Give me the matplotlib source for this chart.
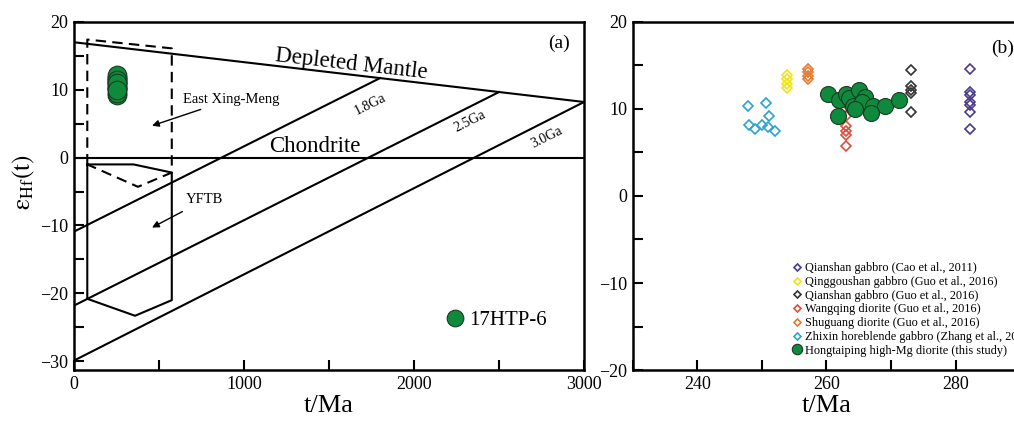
import matplotlib
matplotlib.use('Agg')
import matplotlib.pyplot as plt
import numpy as np
from matplotlib.lines import Line2D

plt.rcParams['font.family'] = ['Liberation Serif', 'DejaVu Serif']
plt.rcParams['mathtext.fontset'] = 'stix'

# ---- panel (a) reference lines ----
dm_t = [0, 3000]
dm_eps = [17.0, 8.2]          # depleted mantle
model_ages = [1800, 2500, 3000]
model_labels = ['1.8Ga', '2.5Ga', '3.0Ga']
model_eps0 = [-10.9, -21.8, -29.9]  # crustal evolution lines at t = 0

# East Xing-Meng field (dashed) and YFTB field (solid)
exm_t = [78, 78, 575, 575, 376, 78]
exm_eps = [-1.0, 17.4, 16.1, -2.2, -4.3, -1.0]
yftb_t = [78, 350, 575, 575, 359, 78, 78]
yftb_eps = [-1.0, -1.0, -2.2, -21.0, -23.3, -20.8, -1.0]

# ---- data ----
hong_t = [260.2, 262.0, 263.1, 263.5, 265.1, 266.0, 264.1, 265.5, 267.2, 269.1,
          271.2, 261.8, 266.9, 264.5]
hong_eps = [11.7, 11.0, 11.7, 11.3, 12.2, 11.4, 10.3, 10.8, 10.3, 10.3,
            11.0, 9.2, 9.5, 10.0]

cao_t = [282.2] * 7
cao_eps = [14.6, 11.9, 11.6, 10.8, 10.4, 9.6, 7.7]
qinggou_t = [253.9] * 4
qinggou_eps = [13.9, 13.4, 12.9, 12.4]
qianshan_t = [273.1] * 5
qianshan_eps = [14.5, 12.6, 12.2, 11.8, 9.7]
wangqing_t = [263.0] * 7
wangqing_eps = [11.4, 10.6, 9.2, 8.0, 7.5, 7.0, 5.7]
shuguang_t = [257.1] * 4
shuguang_eps = [14.6, 14.2, 13.8, 13.4]
zhixin_t = [247.8, 250.7, 251.1, 248.0, 249.0, 250.0, 250.9, 252.0]
zhixin_eps = [10.3, 10.65, 9.2, 8.2, 7.7, 8.2, 7.9, 7.5]

series = [
    (cao_t, cao_eps, '#4a3a8e', 'Qianshan gabbro (Cao et al., 2011)'),
    (qinggou_t, qinggou_eps, '#f0e21c', 'Qinggoushan gabbro (Guo et al., 2016)'),
    (qianshan_t, qianshan_eps, '#333333', 'Qianshan gabbro (Guo et al., 2016)'),
    (wangqing_t, wangqing_eps, '#d8503f', 'Wangqing diorite (Guo et al., 2016)'),
    (shuguang_t, shuguang_eps, '#e8792d', 'Shuguang diorite (Guo et al., 2016)'),
    (zhixin_t, zhixin_eps, '#2ba3d3', 'Zhixin horeblende gabbro (Zhang et al., 2020)'),
]
green = '#0f8a3c'

fig = plt.figure(figsize=(10.14, 4.21), dpi=100)
ax1 = fig.add_axes([0.073, 0.121, 0.503, 0.827])
ax2 = fig.add_axes([0.624, 0.121, 0.382, 0.827])

lw = 1.5
# depleted mantle + chondrite
ax1.plot(dm_t, dm_eps, color='k', lw=lw)
ax1.axhline(0, color='k', lw=lw)
for age, e0 in zip(model_ages, model_eps0):
    ax1.plot([0, age], [e0, np.interp(age, dm_t, dm_eps)], color='k', lw=lw)

ax1.plot(exm_t, exm_eps, color='k', lw=lw, ls=(0, (5, 3)))
ax1.plot(yftb_t, yftb_eps, color='k', lw=lw)

ax1.scatter([253] * len(hong_eps), hong_eps, s=180, c=green, edgecolors='#1a3a22',
            linewidths=0.8, zorder=5)

ax1.text(1629, 13.8, 'Depleted Mantle', fontsize=16.5, rotation=-6.5,
         ha='center', va='center')
ax1.text(1418, 1.6, 'Chondrite', fontsize=16.5, ha='center', va='center')
label_pos = [(1741, 7.8), (2329, 5.3), (2782, 3.0)]
for (x, y), lab in zip(label_pos, model_labels):
    ax1.text(x, y, lab, fontsize=10, rotation=26.5, ha='center', va='center')
ax1.text(2850, 16.9, '(a)', fontsize=14, ha='center', va='center')

ax1.annotate('East Xing-Meng', xy=(459, 4.7), xytext=(640, 8.6), fontsize=10.5,
             ha='left', va='center',
             arrowprops=dict(arrowstyle='-|>', color='k', lw=1, mutation_scale=10,
                             shrinkA=2, shrinkB=0))
ax1.annotate('YFTB', xy=(459, -10.3), xytext=(660, -6.2), fontsize=10.5,
             ha='left', va='center',
             arrowprops=dict(arrowstyle='-|>', color='k', lw=1, mutation_scale=10,
                             shrinkA=4, shrinkB=0))

h17 = Line2D([], [], ls='none', marker='o', ms=12, mfc=green, mec='#1a3a22', mew=0.8)
ax1.legend([h17], ['17HTP-6'], loc='lower left', bbox_to_anchor=(0.71, 0.085),
           frameon=False, fontsize=15, handlelength=0.8, handletextpad=0.3,
           borderpad=0)

ax1.set_xlim(0, 3000)
ax1.set_ylim(-31.3, 20)
ax1.set_xticks(np.arange(0, 3001, 500))
ax1.set_xticklabels([str(v) if v % 1000 == 0 else '' for v in range(0, 3001, 500)])
ax1.set_yticks(np.arange(-30, 21, 5))
ax1.set_yticklabels([str(v).replace('-', '\u2212') if v % 10 == 0 else ''
                     for v in range(-30, 21, 5)])
ax1.set_xlabel('t/Ma', fontsize=19, labelpad=2)
ax1.set_ylabel(r'$\mathrm{\varepsilon_{Hf}(t)}$', fontsize=18)
ax1.yaxis.set_label_coords(-0.073, 0.54)

# ---- panel (b) ----
for t, e, c, lab in series:
    ax2.plot(t, e, ls='none', marker='D', ms=5.5, mfc='none', mec=c, mew=1.2,
             label=lab)
ax2.plot(hong_t, hong_eps, ls='none', marker='o', ms=11.5, mfc=green,
         mec='#1a3a22', mew=0.8, label='Hongtaiping high-Mg diorite (this study)',
         zorder=3)

ax2.text(0.955, 0.925, '(b)', fontsize=14, ha='center', va='center',
         transform=ax2.transAxes)
leg = ax2.legend(loc='upper left', bbox_to_anchor=(0.40, 0.327), frameon=False,
                 fontsize=8.8, handlelength=0.6, handletextpad=0.3,
                 borderpad=0, labelspacing=0.14, markerscale=0.65)

ax2.set_xlim(230, 290)
ax2.set_ylim(-20, 20)
ax2.set_xticks(np.arange(230, 291, 10))
ax2.set_xticklabels([str(v) if v % 20 == 0 else '' for v in range(230, 291, 10)])
ax2.set_yticks(np.arange(-20, 21, 5))
ax2.set_yticklabels([str(v).replace('-', '\u2212') if v % 10 == 0 else ''
                     for v in range(-20, 21, 5)])
ax2.set_xlabel('t/Ma', fontsize=19, labelpad=2)

for ax in (ax1, ax2):
    ax.tick_params(direction='in', length=7, width=1.5, labelsize=13, pad=4)
    for sp in ax.spines.values():
        sp.set_linewidth(1.8)

fig.savefig('out.png', dpi=100)
